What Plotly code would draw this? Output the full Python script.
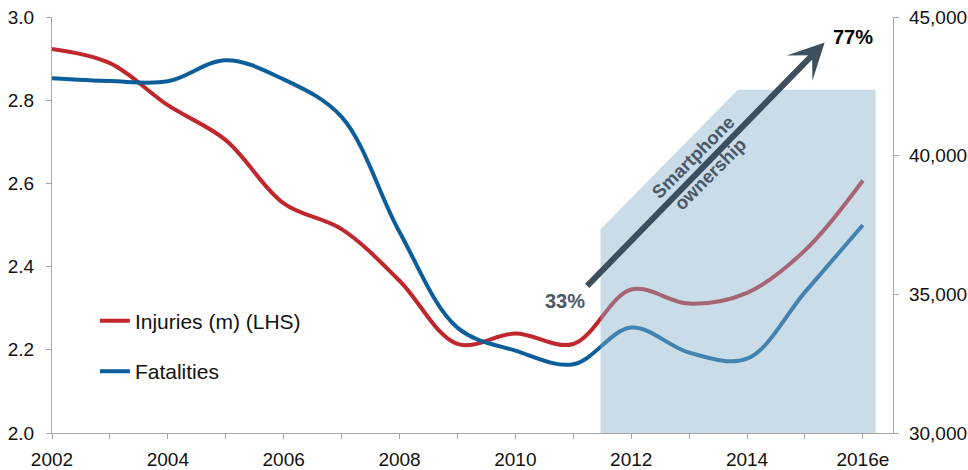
import plotly.graph_objects as go

years = [2002, 2003, 2004, 2005, 2006, 2007, 2008, 2009, 2010, 2011, 2012, 2013, 2014, 2015, 2016]
injuries_m = [2.923, 2.889, 2.788, 2.704, 2.552, 2.490, 2.366, 2.214, 2.239, 2.214, 2.345, 2.311, 2.337, 2.439, 2.607]
fatalities = [42790, 42690, 42680, 43440, 42750, 41400, 37250, 33800, 32970, 32480, 33800, 32900, 32680, 35080, 37500]
tick_years = years
tick_text = ["2002", "", "2004", "", "2006", "", "2008", "", "2010", "", "2012", "", "2014", "", "2016e"]
left_ticks = [2.0, 2.2, 2.4, 2.6, 2.8, 3.0]
right_ticks = [30000, 35000, 40000, 45000]

# smartphone shaded region outline (data coordinates)
shade_x = [2011.47, 2011.47, 2013.84, 2016.22, 2016.22]
shade_y = [2.0, 2.49, 2.825, 2.825, 2.0]
arrow_from = (2011.215, 2.350)
arrow_to = (2015.34, 2.939)

FONT = "Liberation Sans, Arial, sans-serif"
RED = "#c0272d"
BLUE = "#0b5e99"
DARK = "#3d4f5f"
LABEL = "#4b5967"

fig = go.Figure()
fig.add_trace(go.Scatter(x=years, y=injuries_m, name="Injuries (m) (LHS)", mode="lines",
                         line=dict(color=RED, width=4, shape="spline", smoothing=1.0),
                         legendgroup="a", yaxis="y"))
fig.add_trace(go.Scatter(x=years, y=fatalities, name="Fatalities", mode="lines",
                         line=dict(color=BLUE, width=4, shape="spline", smoothing=1.0),
                         legendgroup="b", yaxis="y2"))

path = "M " + " L ".join(f"{x},{y}" for x, y in zip(shade_x, shade_y)) + " Z"
fig.add_shape(type="path", path=path, xref="x", yref="y", layer="above",
              fillcolor="#87b1cc", opacity=0.45, line=dict(width=0))

fig.add_annotation(x=arrow_to[0], y=arrow_to[1], ax=arrow_from[0], ay=arrow_from[1],
                   xref="x", yref="y", axref="x", ayref="y", text="",
                   showarrow=True, arrowhead=3, arrowsize=1.0, arrowwidth=6, arrowcolor=DARK)
fig.add_annotation(x=2010.853, y=2.317, xref="x", yref="y", text="<b>33%</b>", showarrow=False,
                   font=dict(family=FONT, size=20, color=LABEL))
fig.add_annotation(x=2015.822, y=2.953, xref="x", yref="y", text="<b>77%</b>", showarrow=False,
                   font=dict(family=FONT, size=20, color="#000000"))
fig.add_annotation(x=2013.217, y=2.642, xref="x", yref="y", text="<b>Smartphone<br>ownership</b>",
                   showarrow=False, textangle=-45,
                   font=dict(family=FONT, size=18.5, color=LABEL))

axis_common = dict(showgrid=False, zeroline=False, showline=True, linecolor="#a6a6a6",
                   linewidth=1.3, ticks="outside", ticklen=5, tickcolor="#a6a6a6", automargin=False,
                   ticklabeloverflow="allow",
                   tickfont=dict(family=FONT, size=19, color="#111111"))

fig.update_layout(
    width=968, height=470,
    margin=dict(l=52, r=75, t=17, b=37),
    paper_bgcolor="white", plot_bgcolor="white",
    font=dict(family=FONT, size=18, color="#111111"),
    showlegend=True,
    legend=dict(x=0.051, y=0.318, xanchor="left", yanchor="top", traceorder="grouped",
                tracegroupgap=20, bgcolor="rgba(0,0,0,0)", font=dict(family=FONT, size=21, color="#111111")),
    xaxis=dict(range=[2002, 2016.52], tickvals=tick_years, ticktext=tick_text, ticklabelstandoff=4, **axis_common),
    yaxis=dict(range=[2.0, 3.0], tickvals=left_ticks, tickformat=".1f", ticklabelstandoff=8, **axis_common),
    yaxis2=dict(range=[30000, 45000], tickvals=right_ticks, tickformat=",", overlaying="y", side="right",
                ticklabelstandoff=6, **axis_common),
)

fig.write_html("out.html", config={"displayModeBar": False},
               post_script="document.body.style.margin='0';")
